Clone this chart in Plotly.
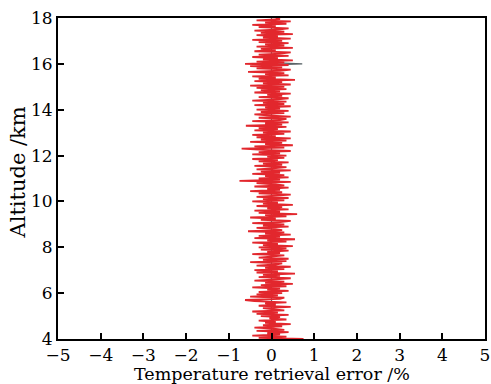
import plotly.graph_objects as go

# Altitude grid (km) and retrieval error (%), 0.05 km steps
alt_start = 4.0
alt_step = 0.05
error_pct = [
    # 4.0 - 4.95
    0.75, -0.3, 0.35, -0.45, 0.2, -0.1, 0.4, -0.35, 0.3, 0.05, -0.4, 0.25, -0.2, 0.45, -0.15, 0.1, -0.3, 0.35, -0.05, 0.2,
    # 5.0 - 5.95
    -0.25, 0.4, -0.35, 0.15, -0.45, 0.3, 0.0, -0.2, 0.45, -0.3, 0.1, -0.15, 0.35, -0.4, -0.62, 0.2, 0.3, -0.5, 0.15, -0.35,
    # 6.0 - 6.95
    0.25, -0.3, 0.4, -0.1, 0.2, -0.45, 0.35, -0.25, 0.5, -0.15, 0.3, -0.4, 0.1, 0.45, -0.3, 0.2, -0.2, 0.55, -0.35, 0.15,
    # 7.0 - 7.95
    -0.4, 0.3, -0.15, 0.45, -0.35, 0.1, 0.25, -0.5, 0.35, -0.2, 0.4, -0.3, 0.05, 0.3, -0.45, 0.2, -0.1, 0.4, -0.25, 0.35,
    # 8.0 - 8.95
    -0.3, 0.5, -0.2, 0.15, -0.45, 0.35, -0.1, 0.55, -0.4, 0.2, -0.3, 0.45, -0.15, 0.3, -0.55, 0.25, 0.05, -0.35, 0.4, -0.2,
    # 9.0 - 9.95
    0.3, -0.45, 0.2, 0.45, -0.25, 0.1, -0.5, 0.35, -0.15, 0.6, -0.3, 0.2, -0.4, 0.4, -0.1, 0.25, -0.35, 0.5, -0.2, 0.15,
    # 10.0 - 10.95
    -0.45, 0.3, -0.2, 0.4, -0.35, 0.15, 0.45, -0.3, 0.25, -0.5, 0.2, -0.1, 0.4, -0.4, 0.3, 0.05, -0.35, 0.45, -0.75, 0.2,
    # 11.0 - 11.95
    -0.3, 0.4, -0.15, 0.3, -0.45, 0.2, -0.25, 0.45, -0.35, 0.1, 0.35, -0.4, 0.25, -0.2, 0.4, -0.3, 0.15, -0.45, 0.3, -0.1,
    # 12.0 - 12.95
    0.35, -0.45, 0.2, -0.3, 0.45, -0.2, -0.7, 0.3, -0.4, 0.5, -0.15, 0.25, -0.5, 0.35, -0.25, 0.45, -0.35, 0.1, -0.45, 0.3,
    # 13.0 - 13.95
    -0.2, 0.45, -0.4, 0.15, -0.3, 0.35, -0.6, 0.25, -0.15, 0.4, -0.45, 0.2, 0.35, -0.3, 0.45, -0.1, -0.4, 0.3, -0.25, 0.4,
    # 14.0 - 14.95
    -0.35, 0.2, -0.15, 0.45, -0.4, 0.3, -0.2, 0.35, -0.45, 0.15, 0.4, -0.3, 0.25, -0.1, 0.45, -0.4, 0.2, -0.25, 0.35, -0.35,
    # 15.0 - 15.95
    0.3, -0.5, 0.45, -0.2, 0.25, -0.4, 0.55, -0.3, 0.1, -0.45, 0.4, -0.15, 0.3, -0.55, 0.2, 0.45, -0.35, 0.25, -0.5, 0.4,
    # 16.0 - 16.95
    -0.62, 0.3, -0.35, 0.5, -0.2, 0.15, -0.45, 0.4, -0.3, 0.2, 0.45, -0.4, 0.1, -0.25, 0.5, -0.35, 0.3, -0.15, 0.4, -0.3,
    # 17.0 - 17.95
    0.25, -0.45, 0.45, -0.2, 0.15, -0.35, 0.5, -0.25, 0.3, -0.4, 0.2, 0.4, -0.3, 0.1, -0.45, 0.35, -0.15, 0.45, -0.35, 0.2,
    # 18.0
    0.1,
]
altitude_km = [round(alt_start + i * alt_step, 2) for i in range(len(error_pct))]

# Reference (gray) series
ref_alt = [4.0, 15.95, 16.0, 16.05, 18.0]
ref_err = [0.0, 0.0, 0.72, 0.0, 0.0]

x_ticks = [-5, -4, -3, -2, -1, 0, 1, 2, 3, 4, 5]
y_ticks = [4, 6, 8, 10, 12, 14, 16, 18]

x_title = "Temperature retrieval error /%"
y_title = "Altitude /km"

font_family = "DejaVu Serif"

fig = go.Figure()
fig.add_trace(go.Scatter(x=ref_err, y=ref_alt, mode="lines",
                         line=dict(color="#5a6468", width=1.2), showlegend=False))
fig.add_trace(go.Scatter(x=error_pct, y=altitude_km, mode="lines",
                         line=dict(color="#e2272d", width=1.8), showlegend=False))

axis_common = dict(showline=True, linecolor="black", linewidth=2, mirror=True,
                   ticks="inside", ticklen=6, tickwidth=1.5, tickcolor="black",
                   showgrid=False, zeroline=False, automargin=False,
                   tickfont=dict(family=font_family, size=17, color="black"))

fig.update_xaxes(range=[-5, 5], tickvals=x_ticks, **axis_common)
fig.update_yaxes(range=[4, 18], tickvals=y_ticks, **axis_common)

fig.add_annotation(text=x_title, xref="paper", yref="paper", x=0.5, y=0,
                   xanchor="center", yanchor="middle", yshift=-35, showarrow=False,
                   font=dict(family=font_family, size=17.5, color="black"))
fig.add_annotation(text=y_title, xref="paper", yref="paper", x=0, y=0.5,
                   xanchor="center", yanchor="middle", xshift=-41, yshift=6,
                   textangle=-90, showarrow=False,
                   font=dict(family=font_family, size=21, color="black"))

fig.update_layout(width=491, height=384, margin=dict(l=58, r=6, t=18, b=45),
                  plot_bgcolor="white", paper_bgcolor="white")

fig.write_html("out.html")
